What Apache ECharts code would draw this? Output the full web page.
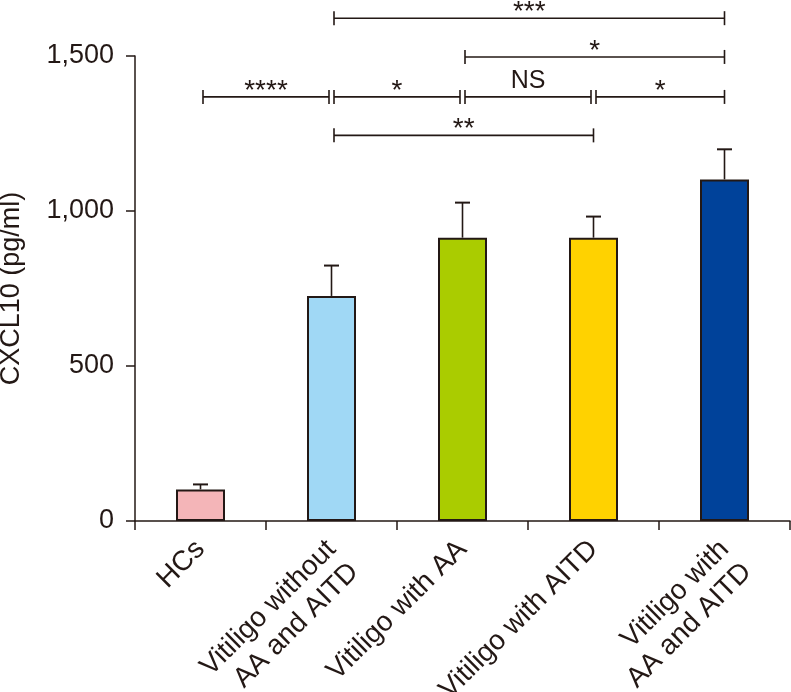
<!DOCTYPE html>
<html><head><meta charset="utf-8">
<script src="https://cdn.jsdelivr.net/npm/echarts/dist/echarts.min.js"></script>
<style>html,body{margin:0;padding:0;background:#fff}#c{width:791px;height:692px}</style>
</head><body><div id="c"></div>
<script>
const categories = ['HCs', 'Vitiligo without\nAA and AITD', 'Vitiligo with AA', 'Vitiligo with AITD', 'Vitiligo with\nAA and AITD'];
const meanValues = [102, 726, 914, 914, 1102];
const errorTops = [118, 824, 1027, 982, 1199];
const barColors = ['#F4B5B8', '#A0D8F5', '#AACC00', '#FFD200', '#00429A'];
const yTicks = [0, 500, 1000, 1500];
const bracketFrom = [0, 1, 2, 3, 1, 2, 1];
const bracketTo = [1, 2, 3, 4, 3, 4, 4];
const bracketLevels = [1368, 1368, 1368, 1368, 1244, 1497, 1622];
const bracketLabels = ['****', '*', 'NS', '*', '**', '*', '***'];

const INK = '#231815';
const FONT = '"Liberation Sans", Arial, Helvetica, sans-serif';
const LINE_H = 32;

const chart = echarts.init(document.getElementById('c'), null, {renderer: 'canvas'});

const errData = meanValues.map((v, i) => [i, v, errorTops[i]]);
const brData = bracketFrom.map((f, i) => [f, bracketTo[i], bracketLevels[i]]);

function sharedEnd(i) {
  return bracketFrom.some((f, j) => j !== i && bracketLevels[j] === bracketLevels[i] && f === bracketTo[i]);
}

chart.setOption({
  animation: false,
  backgroundColor: '#fff',
  grid: {left: 135, right: 1, top: 56, bottom: 171, containLabel: false, outerBoundsMode: 'none'},
  xAxis: {
    type: 'category',
    data: categories,
    boundaryGap: true,
    axisLine: {lineStyle: {color: INK, width: 1.5}},
    axisTick: {show: true, inside: false, length: 9, alignWithLabel: false, lineStyle: {color: INK, width: 1.5}},
    axisLabel: {interval: 0, rotate: 45, margin: 24, fontSize: 28, lineHeight: LINE_H, color: INK, fontFamily: FONT, align: 'right',
      // multi-line labels are anchored on their first line, as in the reference
      formatter: v => v.indexOf('\n') >= 0 ? ' \n' + v : v},
    splitLine: {show: false}
  },
  yAxis: {
    type: 'value',
    min: 0, max: 1500, interval: 500,
    name: 'CXCL10 (pg/ml)',
    nameLocation: 'middle',
    nameRotate: 90,
    nameGap: 110,
    nameTextStyle: {fontSize: 27, color: INK, fontFamily: FONT},
    axisLine: {show: true, lineStyle: {color: INK, width: 1.5}},
    axisTick: {show: true, inside: false, length: 9, lineStyle: {color: INK, width: 1.5}},
    axisLabel: {margin: 21, fontSize: 27, color: INK, fontFamily: FONT,
      formatter: v => yTicks.includes(v) ? v.toLocaleString('en-US') : ''},
    splitLine: {show: false}
  },
  series: [
    {
      type: 'bar',
      barWidth: 49,
      data: meanValues.map((v, i) => ({value: v, itemStyle: {color: barColors[i]}})),
      itemStyle: {borderColor: INK, borderWidth: 2},
      z: 2
    },
    {
      type: 'custom',
      data: errData,
      z: 3,
      renderItem: (params, api) => {
        const base = api.coord([api.value(0), api.value(1)]);
        const top = api.coord([api.value(0), api.value(2)]);
        return {type: 'group', children: [
          {type: 'line', shape: {x1: base[0], y1: base[1], x2: top[0], y2: top[1]}, style: {stroke: INK, lineWidth: 1.6}},
          {type: 'line', shape: {x1: top[0] - 7.5, y1: top[1], x2: top[0] + 7.5, y2: top[1]}, style: {stroke: INK, lineWidth: 2}}
        ]};
      }
    },
    {
      type: 'custom',
      data: brData,
      clip: false,
      z: 4,
      renderItem: (params, api) => {
        const i = params.dataIndex;
        const a = api.coord([api.value(0), api.value(2)]);
        const b = api.coord([api.value(1), api.value(2)]);
        const x1 = a[0] + 2.5;
        const x2 = b[0] - (sharedEnd(i) ? 2.5 : 0);
        const y = a[1];
        const h = 7;
        const lbl = bracketLabels[i];
        const isStar = lbl.indexOf('*') >= 0;
        return {type: 'group', children: [
          {type: 'line', shape: {x1: x1, y1: y, x2: x2, y2: y}, style: {stroke: INK, lineWidth: 1.6}},
          {type: 'line', shape: {x1: x1, y1: y - h, x2: x1, y2: y + h}, style: {stroke: INK, lineWidth: 1.6}},
          {type: 'line', shape: {x1: x2, y1: y - h, x2: x2, y2: y + h}, style: {stroke: INK, lineWidth: 1.6}},
          {type: 'text', x: (x1 + x2) / 2, y: isStar ? y + 8 : y - 3,
            style: {text: lbl, fill: INK, font: (isStar ? '28px ' : '25px ') + FONT,
              align: 'center', verticalAlign: 'bottom'}}
        ]};
      }
    }
  ]
});
</script>
</body></html>
